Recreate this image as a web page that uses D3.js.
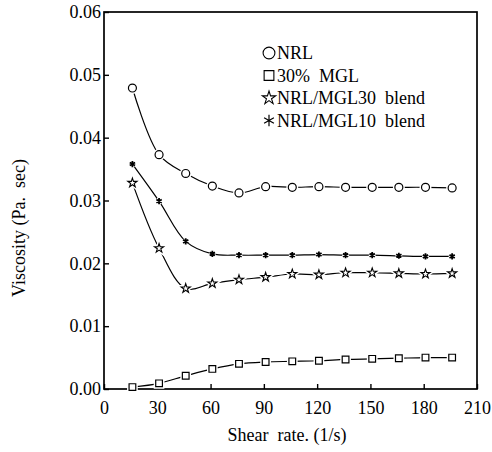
<!DOCTYPE html>
<html>
<head>
<meta charset="utf-8">
<script src="https://cdn.jsdelivr.net/npm/d3@7"></script>
<style>
  body { margin: 0; background: #fff; }
</style>
</head>
<body>
<div id="vis"></div>
<script>
// shear rate (1/s)
const shearRate = [16, 31, 46, 61, 76, 91, 106, 121, 136, 151, 166, 181, 196];
// viscosity (Pa. sec)
const nrl    = [0.0479, 0.0373, 0.0343, 0.0323, 0.0312, 0.0322, 0.0321, 0.0322, 0.0321, 0.0321, 0.0321, 0.0321, 0.0320];
const mgl    = [0.0003, 0.0009, 0.0021, 0.0032, 0.0040, 0.0043, 0.0044, 0.0045, 0.0047, 0.0048, 0.0049, 0.0050, 0.0050];
const mgl30  = [0.0328, 0.0224, 0.0160, 0.0168, 0.0174, 0.0178, 0.0183, 0.0182, 0.0185, 0.0185, 0.0184, 0.0183, 0.0184];
const mgl10  = [0.0358, 0.0299, 0.0235, 0.0215, 0.0213, 0.0213, 0.0213, 0.0214, 0.0213, 0.0213, 0.0212, 0.0211, 0.0211];
const xTicks = [0, 30, 60, 90, 120, 150, 180, 210];
const yTicks = [0, 0.01, 0.02, 0.03, 0.04, 0.05, 0.06];
const labels = ['NRL', '30%  MGL', 'NRL/MGL30  blend', 'NRL/MGL10  blend'];

const FONT = 'Liberation Serif';

const series = [
  { name: labels[0], values: nrl,   symbol: d3.symbolCircle,   size: 50, fill: '#fff', sw: 1.2 },
  { name: labels[1], values: mgl,   symbol: d3.symbolSquare,   size: 45, fill: '#fff', sw: 1.2 },
  { name: labels[2], values: mgl30, symbol: d3.symbolStar,     size: 26, fill: '#fff', sw: 1.1 },
  { name: labels[3], values: mgl10, symbol: d3.symbolAsterisk, size: 26, fill: 'none', sw: 1.8 }
];

const width = 492, height = 452;
const svg = d3.select('#vis').append('svg')
  .attr('width', width)
  .attr('height', height);

const x = d3.scaleLinear().domain([0, 210]).range([104, 477]);
const y = d3.scaleLinear().domain([0, 0.06]).range([389, 12]);

// frame
svg.append('rect')
  .attr('x', x(0)).attr('y', y(0.06))
  .attr('width', x(210) - x(0)).attr('height', y(0) - y(0.06))
  .attr('fill', 'none').attr('stroke', '#000').attr('stroke-width', 1.7);

// axes, ticks pointing inward
const xAxis = svg.append('g')
  .attr('transform', `translate(0,${y(0)})`)
  .call(d3.axisBottom(x).tickValues(xTicks).tickSizeInner(-5).tickSizeOuter(0).tickPadding(12));
const yAxis = svg.append('g')
  .attr('transform', `translate(${x(0)},0)`)
  .call(d3.axisLeft(y).tickValues(yTicks).tickFormat(d3.format('.2f')).tickSizeInner(-5).tickSizeOuter(0).tickPadding(3));

[xAxis, yAxis].forEach(g => {
  g.attr('font-family', FONT).attr('font-size', 18);
  g.select('.domain').remove();
  g.selectAll('line').attr('stroke', '#000').attr('stroke-width', 1.4);
  g.selectAll('text')
    .attr('font-family', FONT)
    .attr('font-size', 18)
    .attr('fill', '#000');
});

// axis titles
svg.append('text')
  .attr('x', 287).attr('y', 441)
  .attr('text-anchor', 'middle')
  .attr('font-family', FONT)
  .attr('font-size', 18)
  .text('Shear\u00a0\u00a0rate.\u00a0(1/s)');

svg.append('text')
  .attr('transform', 'translate(25,228) rotate(-90)')
  .attr('text-anchor', 'middle')
  .attr('font-family', FONT)
  .attr('font-size', 18)
  .text('Viscosity (Pa.\u00a0\u00a0sec)');

// curves
const line = d3.line()
  .x((d, i) => x(shearRate[i]))
  .y(d => y(d))
  .curve(d3.curveCatmullRom.alpha(0.5));

series.forEach(s => {
  svg.append('path')
    .datum(s.values)
    .attr('d', line)
    .attr('fill', 'none')
    .attr('stroke', '#000')
    .attr('stroke-width', 1.2);

  const g = svg.append('g');
  // white halo to leave gaps around markers
  g.selectAll('.halo')
    .data(s.values)
    .join('path')
      .attr('class', 'halo')
      .attr('transform', (d, i) => `translate(${x(shearRate[i])},${y(d)})`)
      .attr('d', d3.symbol(s.symbol, s.size))
      .attr('fill', '#fff')
      .attr('stroke', '#fff')
      .attr('stroke-width', 4);
  g.selectAll('.mark')
    .data(s.values)
    .join('path')
      .attr('class', 'mark')
      .attr('transform', (d, i) => `translate(${x(shearRate[i])},${y(d)})`)
      .attr('d', d3.symbol(s.symbol, s.size))
      .attr('fill', s.fill)
      .attr('stroke', '#000')
      .attr('stroke-width', s.sw);
});

// legend
const legend = svg.append('g').attr('transform', 'translate(269,53)');
const legendSize = [110, 95, 55, 90];
series.forEach((s, i) => {
  const row = legend.append('g').attr('transform', `translate(0,${i * 22.5})`);
  row.append('path')
    .attr('d', d3.symbol(s.symbol, legendSize[i]))
    .attr('fill', s.fill === 'none' ? 'none' : '#fff')
    .attr('stroke', '#000')
    .attr('stroke-width', i === 3 ? 1.2 : 1.1);
  row.append('text')
    .attr('x', 8).attr('dy', '0.35em')
    .attr('font-family', FONT)
    .attr('font-size', 18)
    .text(s.name.replace(/ /g, '\u00a0'));
});
</script>
</body>
</html>
